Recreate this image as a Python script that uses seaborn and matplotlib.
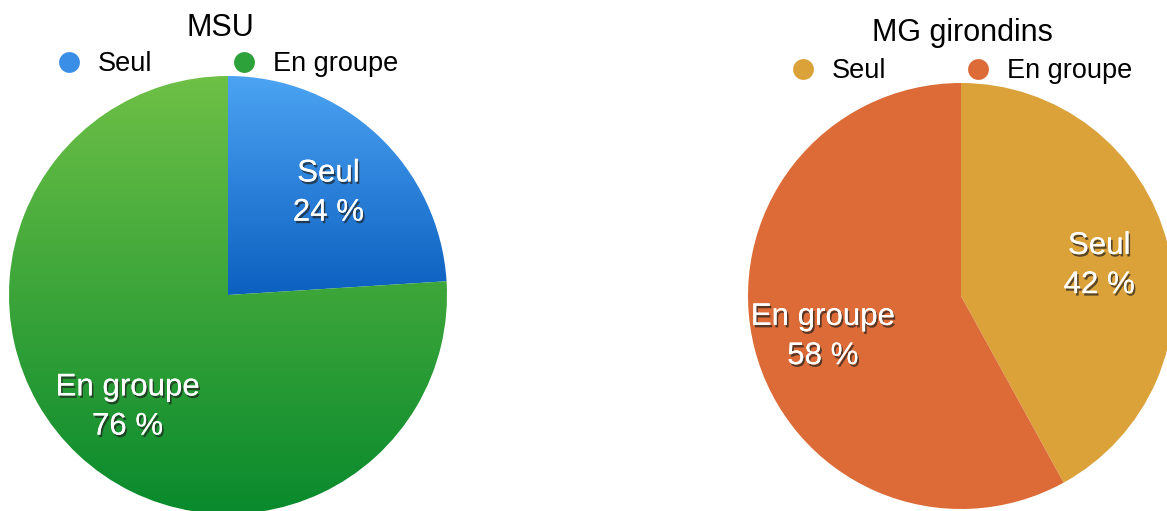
import numpy as np
import matplotlib
matplotlib.use("Agg")
import matplotlib.pyplot as plt
import matplotlib.patheffects as pe
from matplotlib.colors import to_rgb
from matplotlib.lines import Line2D
from matplotlib.transforms import offset_copy
import seaborn as sns

sns.set_theme(style="white")
plt.rcParams['font.family'] = ['Liberation Sans', 'DejaVu Sans']

# ---- data ----
categories = ["Seul", "En groupe"]
msu_values = [24, 76]
mg_values = [42, 58]
titles = ["MSU", "MG girondins"]

# gradient colours (top, bottom) per wedge
msu_grad = [("#4CA4F3", "#0C60C0"), ("#6EC046", "#098A2D")]
msu_legend = ["#3B8EE6", "#2EA23A"]
mg_colors = ["#DCA23A", "#DC6B37"]

W, H = 1167, 511
fig = plt.figure(figsize=(W / 100, H / 100), dpi=100)
fig.patch.set_facecolor("white")


def add_axes_px(cx, cy, r):
    left = (cx - r) / W
    bottom = (H - (cy + r)) / H
    return fig.add_axes([left, bottom, 2 * r / W, 2 * r / H])


def draw_pie(ax, values, colors, grads=None):
    labels = [f"{c}\n{v} %" for c, v in zip(categories, values)]
    wedges, texts = ax.pie(values, colors=colors, startangle=90, counterclock=False,
                           labels=labels, labeldistance=0.67, radius=1.0,
                           wedgeprops=dict(linewidth=0))
    for t in texts:
        t.set_transform(offset_copy(ax.transData, fig=fig, x=0, y=-5, units="dots"))
        t.set_ha("center")
        t.set_va("center")
        t.set_multialignment("center")
        t.set_color("white")
        t.set_fontsize(22.5)
        t.set_linespacing(1.4)
        t.set_path_effects([pe.withSimplePatchShadow(offset=(1.2, -1.8),
                                                     shadow_rgbFace="#202020", alpha=0.7),
                            pe.Normal()])
    if grads is not None:
        for w, (top, bot) in zip(wedges, grads):
            w.set_facecolor("none")
            t_rgb = np.array(to_rgb(top))
            b_rgb = np.array(to_rgb(bot))
            n = 256
            frac = np.linspace(0, 1, n)[:, None]
            img = (t_rgb[None, :] * (1 - frac) + b_rgb[None, :] * frac)
            img = np.repeat(img[:, None, :], 2, axis=1)
            theta = np.deg2rad(np.linspace(w.theta1, w.theta2, 100))
            ys = np.concatenate([np.sin(theta), [0]])
            ytop, ybot = ys.max(), ys.min()
            im = ax.imshow(img, extent=[-1.05, 1.05, ybot, ytop], aspect="auto",
                           interpolation="bilinear", zorder=w.get_zorder() - 0.1)
            im.set_clip_path(w)
        for t in texts:
            t.set_zorder(5)
    ax.set_xlim(-1, 1)
    ax.set_ylim(-1, 1)
    ax.set_aspect("equal")
    ax.axis("off")
    return wedges


ax1 = add_axes_px(228, 295, 219)
draw_pie(ax1, msu_values, [g[0] for g in msu_grad], grads=msu_grad)

ax2 = add_axes_px(961, 296, 213)
draw_pie(ax2, mg_values, mg_colors)

# titles
fig.text(220 / W, 1 - 28 / H, titles[0], ha="center", va="center", fontsize=22, color="black")
fig.text(962 / W, 1 - 33 / H, titles[1], ha="center", va="center", fontsize=22, color="black")


def add_legend(colors, cx, cy):
    handles = [Line2D([0], [0], marker="o", linestyle="none", markersize=15,
                      markerfacecolor=c, markeredgewidth=0) for c in colors]
    leg = fig.legend(handles, categories, loc="center", bbox_to_anchor=(cx / W, 1 - cy / H),
                     ncol=2, frameon=False, fontsize=19.5, handletextpad=0.65,
                     columnspacing=3.0, handlelength=0.8, borderpad=0,
                     labelcolor="black")
    return leg


add_legend(msu_legend, 228, 64)
add_legend(mg_colors, 962, 71)

fig.savefig("out.png", dpi=100, facecolor="white")
